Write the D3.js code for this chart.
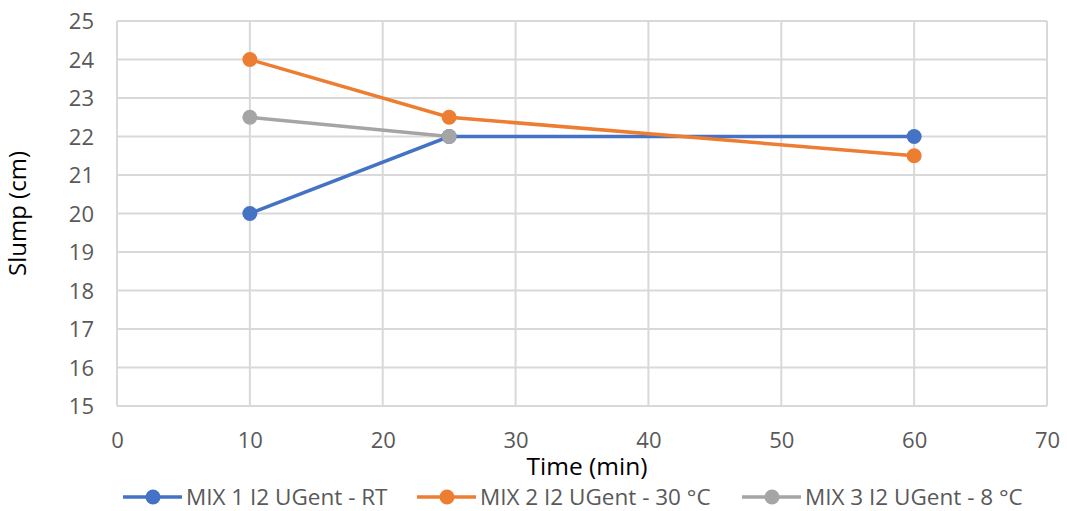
<!DOCTYPE html>
<html><head><meta charset="utf-8">
<script src="https://cdn.jsdelivr.net/npm/d3@7"></script>
<style>body{margin:0;background:#fff;} text{font-family:"Open Sans","Noto Sans",sans-serif;}</style>
</head><body>
<svg id="c" width="1067" height="511"></svg>
<script>
const seriesNames = ["MIX 1 I2 UGent - RT", "MIX 2 I2 UGent - 30 °C", "MIX 3 I2 UGent - 8 °C"];
const seriesColors = ["#4472C4", "#ED7D31", "#A5A5A5"];
const mix1X = [10, 25, 60], mix1Y = [20, 22, 22];
const mix2X = [10, 25, 60], mix2Y = [24, 22.5, 21.5];
const mix3X = [10, 25], mix3Y = [22.5, 22];
const xTicks = [0, 10, 20, 30, 40, 50, 60, 70];
const yTicks = [15, 16, 17, 18, 19, 20, 21, 22, 23, 24, 25];

const series = [
  {name: seriesNames[0], color: seriesColors[0], pts: mix1X.map((x,i)=>[x, mix1Y[i]])},
  {name: seriesNames[1], color: seriesColors[1], pts: mix2X.map((x,i)=>[x, mix2Y[i]])},
  {name: seriesNames[2], color: seriesColors[2], pts: mix3X.map((x,i)=>[x, mix3Y[i]])}
];

const svg = d3.select("#c");
const L = 117, R = 1047, T = 21, B = 406;
const x = d3.scaleLinear().domain([0, 70]).range([L, R]);
const y = d3.scaleLinear().domain([15, 25]).range([B, T]);

const grid = svg.append("g");
grid.selectAll("line.h").data(yTicks).join("line")
  .attr("x1", L).attr("x2", R).attr("y1", d=>y(d)).attr("y2", d=>y(d))
  .attr("stroke", "#d9d9d9").attr("stroke-width", 2);
grid.selectAll("line.v").data(xTicks).join("line").attr("class","v")
  .attr("y1", T).attr("y2", B).attr("x1", d=>x(d)).attr("x2", d=>x(d))
  .attr("stroke", "#d9d9d9").attr("stroke-width", 2);

const yAxis = svg.append("g").attr("transform", `translate(97,0)`)
  .call(d3.axisLeft(y).tickValues(yTicks).tickSize(0).tickFormat(d3.format("d")));
yAxis.select(".domain").remove();
yAxis.selectAll("text").attr("fill", "#595959").style("font-size", "22px").attr("dy", "0.35em");

const xAxis = svg.append("g").attr("transform", `translate(0,429)`)
  .call(d3.axisBottom(x).tickValues(xTicks).tickSize(0).tickFormat(d3.format("d")));
xAxis.select(".domain").remove();
xAxis.selectAll("text").attr("fill", "#595959").style("font-size", "22px");

svg.append("text").attr("transform", `translate(26,${(T+B)/2}) rotate(-90)`)
  .attr("text-anchor", "middle").style("font-size", "24px").attr("fill", "#000").text("Slump (cm)");
svg.append("text").attr("x", 587).attr("y", 475)
  .attr("text-anchor", "middle").style("font-size", "24.5px").attr("fill", "#000").text("Time (min)");

const line = d3.line().x(d=>x(d[0])).y(d=>y(d[1]));
series.forEach(s => {
  svg.append("path").datum(s.pts).attr("d", line).attr("fill", "none")
    .attr("stroke", s.color).attr("stroke-width", 3.5);
});
series.forEach(s => {
  svg.append("g").selectAll("circle").data(s.pts).join("circle")
    .attr("cx", d=>x(d[0])).attr("cy", d=>y(d[1])).attr("r", 7.5).attr("fill", s.color);
});

const legX = [123, 417, 742];
const legY = 497;
series.forEach((s, i) => {
  const g = svg.append("g").attr("transform", `translate(${legX[i]},${legY})`);
  g.append("line").attr("x1", 0).attr("x2", 59).attr("stroke", s.color).attr("stroke-width", 3.5);
  g.append("circle").attr("cx", 30).attr("r", 7.5).attr("fill", s.color);
  g.append("text").attr("x", 63).attr("dy", "0.35em").style("font-size", "22.5px").attr("fill", "#595959").text(s.name);
});
</script>
</body></html>
